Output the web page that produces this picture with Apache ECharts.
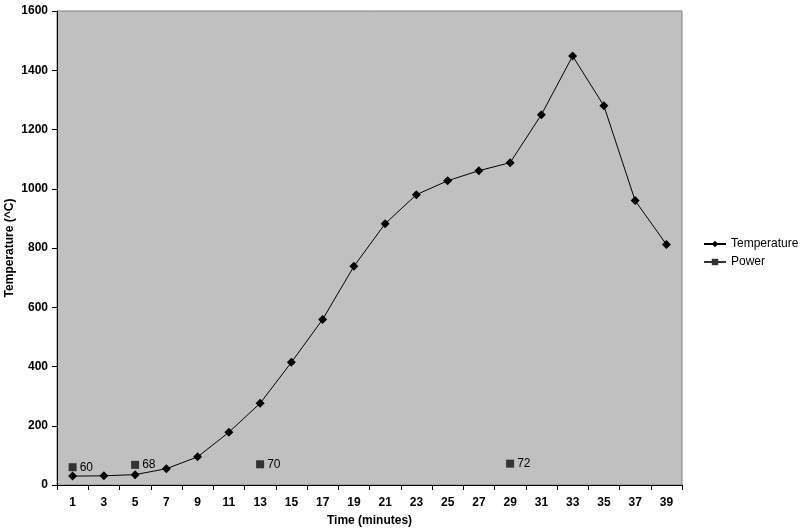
<!DOCTYPE html>
<html><head><meta charset="utf-8">
<script src="https://cdn.jsdelivr.net/npm/echarts@6/dist/echarts.min.js"></script>
<style>html,body{margin:0;padding:0;background:#fff}#c{width:800px;height:530px}</style>
</head><body><div id="c"></div>
<script>
var categories = ['1','3','5','7','9','11','13','15','17','19','21','23','25','27','29','31','33','35','37','39'];
var temperature = [30,31,35,55,95,178,276,414,559,738,882,980,1027,1061,1088,1250,1448,1280,960,812];
var power = [60,null,68,null,null,null,70,null,null,null,null,null,null,null,72,null,null,null,null,null];
var yTicks = {min:0, max:1600, interval:200};

var font = 'Arial, "Liberation Sans", sans-serif';
var chart = echarts.init(document.getElementById('c'));
chart.setOption({
  backgroundColor:'#fff',
  animation:false,
  grid:{left:57,right:118,top:11,bottom:45,show:true,backgroundColor:'#c0c0c0',borderColor:'#808080',borderWidth:1,
    containLabel:false,outerBoundsMode:'none'},
  legend:{orient:'vertical',left:698,top:233,itemWidth:22,itemHeight:8,itemGap:6,
    textStyle:{fontFamily:font,fontSize:12,color:'#000'},
    data:['Temperature','Power']},
  xAxis:{type:'category',data:categories,boundaryGap:true,
    name:'Time (minutes)',nameLocation:'middle',nameGap:30,nameMoveOverlap:false,
    nameTextStyle:{fontFamily:font,fontWeight:'bold',fontSize:12,color:'#000'},
    axisLine:{lineStyle:{color:'#000',width:1}},
    axisTick:{show:true,length:5,lineStyle:{color:'#000'}},
    axisLabel:{fontFamily:font,fontWeight:'bold',fontSize:12,color:'#000',margin:12,interval:0},
    splitLine:{show:false}},
  yAxis:{type:'value',min:yTicks.min,max:yTicks.max,interval:yTicks.interval,
    name:'Temperature (^C)',nameLocation:'middle',nameGap:41,nameRotate:90,nameMoveOverlap:false,
    nameTextStyle:{fontFamily:font,fontWeight:'bold',fontSize:12,color:'#000'},
    axisLine:{show:true,lineStyle:{color:'#000',width:1}},
    axisTick:{show:true,length:5,lineStyle:{color:'#000'}},
    axisLabel:{fontFamily:font,fontWeight:'bold',fontSize:12,color:'#000',margin:9,
      formatter:function(v){return String(v);}},
    splitLine:{show:false}},
  series:[
    {name:'Temperature',type:'line',data:temperature,symbol:'diamond',symbolSize:9,
      itemStyle:{color:'#000'},lineStyle:{color:'#000',width:1}},
    {name:'Power',type:'line',data:power,symbol:'rect',symbolSize:8,connectNulls:false,
      itemStyle:{color:'#333'},lineStyle:{color:'#333',width:1},
      label:{show:true,position:'right',distance:3,fontFamily:font,fontSize:12,color:'#000'}}
  ]
});
</script></body></html>
